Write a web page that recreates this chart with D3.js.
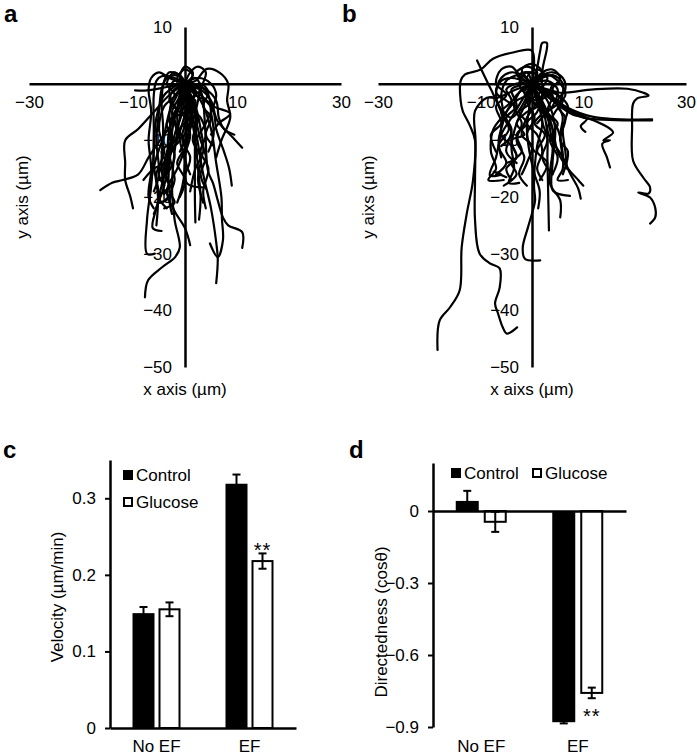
<!DOCTYPE html>
<html>
<head>
<meta charset="utf-8">
<script src="https://cdn.jsdelivr.net/npm/d3@7"></script>
<style>
  body { margin: 0; background: #fff; }
  svg { display: block; font-family: "Liberation Sans", Arial, sans-serif; }
</style>
</head>
<body>
<svg id="fig" width="697" height="755"></svg>
<script>
// ---- data ----
// cell tracks in µm, each starts at the origin
var tracksControl = [
  [[0,0],[-1,-3],[-2.5,-7],[-4.8,-10],[-7,-13],[-9,-16],[-12,-17],[-14,-17.5],[-16.3,-18.8]],
  [[0,0],[-3,-2],[-6,-5],[-9,-8],[-11.5,-10],[-11.5,-14],[-11.5,-17],[-10.5,-20],[-10,-22]],
  [[0,0],[-1,-6],[-2,-12],[-2.5,-18],[-2,-24],[-1,-28.9],[-1.9,-30.6],[-4.4,-32.4],[-7.1,-34.7],[-7.7,-37.7]],
  [[-1,0],[-4,-2],[-5.5,-6],[-6,-12],[-6.5,-18],[-7.3,-24],[-7.3,-30],[-5.8,-30]],
  [[0,0],[1,-5],[0.5,-10],[-1.5,-15],[-3.5,-19],[-2,-22.5],[0,-25.5],[1,-28.5]],
  [[0,0],[2.9,-1.2],[3.8,-6.5],[4.4,-15.3],[5.4,-17.6],[6.3,-20.6],[7.3,-23.6],[8.3,-25],[11,-26.2],[11,-29]],
  [[0,0],[3,-3],[5,-8],[6,-14],[7,-20],[7.1,-23.8],[7.3,-27.6],[6.3,-30.6],[4.8,-28.2]],
  [[0,0],[2,-8],[3.5,-16],[5,-22],[6,-28],[6.3,-31],[6,-35.2]],
  [[0,0],[3,-1],[5,-3],[6.2,-6.5],[9.2,-9.5],[11,-11.3]],
  [[0,0],[2,0.5],[4.2,2.6],[6.7,1.9],[8.3,0],[8.1,-3],[8.7,-6],[7,-10],[6,-13]],
  [[0,0],[-2,1],[-4.5,1.3],[-5.5,0.5],[-6,-2],[-6,-8],[-6,-14],[-5.2,-20],[-5.5,-25]],
  [[0,0],[-3,-0.5],[-7.3,-1.2],[-9.6,-1.2]],
  [[0,0],[3,-2],[5.5,-4],[8.7,-5.3],[6.5,-7],[5,-9]],
  [[0,0],[0.5,-6],[0,-12],[0.4,-17.6],[3.3,-18.3]],
  [[0,0],[1,-5],[2,-10],[2.5,-15],[3,-20],[2.7,-24]],
  [[0,0],[-2,-6],[-3,-12],[-4,-18],[-5.5,-22],[-6.2,-25.5],[-4.5,-26]],
  [[0,0],[1.9,-4],[1.9,-12],[1.9,-20],[2,-24.5]],
  [[0,0],[-1,-4],[-3,-8],[-3.5,-14],[-4.5,-18],[-5,-21],[-3,-20],[-4,-19]],
  [[0,0],[-0.5,-5],[-2,-9],[-3,-14],[-3,-19],[-2,-21],[-4,-22]],
  [[0,0],[2,-2],[4,-3],[5.5,-5],[6,-8],[7.5,-12],[8.5,-15],[9,-18]],
  [[0,0],[-1,1.5],[-3,2],[-4,0.5],[-4.5,-3],[-4.2,-8],[-4.5,-14],[-4,-19.5]],
  [[0,0],[1,2],[2.5,3],[4,2],[3,-1],[2,-5],[1,-8],[-1,-12]],
  [[0,0],[-1.5,-2],[-3,-5],[-4,-9],[-5.5,-13],[-6.5,-17],[-6.8,-21]],
  [[0,0],[0.5,-3],[-0.5,-7],[-2,-11],[-4,-14],[-6,-15],[-8,-17]],
  [[0,0],[1,-2],[2,-6],[3,-10],[4,-13],[3,-16],[4,-18.5]],
  [[0,0],[-2,0.5],[-3,-1],[-2,-4],[0,-6],[1,-9],[0,-13],[1,-16]],
  [[0,0],[2.5,1],[5,0],[6,-2],[5,-5],[4,-7],[2,-10]],
  [[0,0],[-1,-2],[-1.5,-6],[-1,-10],[0,-14],[-0.5,-18],[-1.5,-21]],
  [[0,0],[1,-1],[0,-3],[-2,-5],[-3,-9],[-2,-13],[-3.5,-16]],
  [[0,0],[3,-0.5],[4.5,-2],[5,-5],[5.5,-9],[4.5,-12]],
  [[0,0],[-0.5,1],[-2,1.5],[-3.5,1],[-4.5,-1],[-5,-5],[-5.5,-10],[-5,-16],[-6,-19]],
  [[0,0],[0.5,-2],[2,-4],[3,-8],[3.5,-12],[2,-15],[1,-19]],
  [[0,0],[-1,-1],[-2.5,-3],[-3,-6],[-2.5,-10],[-3.5,-13],[-5,-16],[-4,-18]],
  [[0,0],[4,-1],[6,-3],[6.5,-6],[7.5,-8],[9.5,-9]],
  [[0,0],[1,-3],[0,-7],[-1,-10],[-3,-12],[-4,-16],[-2.5,-19],[-4.5,-21]],
  [[0,0],[-2,2],[-3.5,0],[-2,-2],[-4,-4],[-5,-8],[-4,-12],[-5.5,-16],[-5,-20],[-6,-23]],
  [[0,0],[1.5,1.5],[0,2.5],[-1.5,1],[-1,-2],[-2.5,-5],[-1.5,-9],[-3,-12],[-2,-17],[-3,-20],[-2.5,-23]],
  [[0,0],[2,1],[3,-1],[1,-3],[2.5,-6],[1.5,-10],[3,-13],[2.5,-17],[3.5,-21]],
  [[0,0],[-1,-1.5],[1,-3],[0,-5],[-2,-6],[-1,-9],[-3,-11],[-4,-15],[-3,-18],[-5,-20],[-3.5,-22]],
  [[0,0],[1,0.5],[0.5,-2],[2,-3],[1,-6],[-1,-8],[0,-11],[-1.5,-14],[0,-17],[-1,-20]],
  [[0,0],[-3,1],[-5,2],[-6.5,1],[-7,-1],[-6.5,-5],[-7,-10],[-6.5,-15],[-7,-20],[-6,-22]],
  [[0,0],[2,-1],[1,-4],[3,-6],[4,-9],[3,-12],[4.5,-15],[3.5,-19],[4,-22]],
  [[0,0],[-1,1],[0,3],[1.5,2],[1,0],[2,-2],[0,-4],[1,-7],[-0.5,-10],[1,-13],[0,-16]],
  [[0,0],[-2,-1],[-3,-3],[-1.5,-5],[-3.5,-7],[-2.5,-10],[-4.5,-12],[-3,-15],[-5,-17]],
  [[0,0],[1.5,-1],[3,0],[4.5,-1.5],[3.5,-4],[5,-6],[4,-9],[5.5,-11]]
];

var tracksGlucose = [
  [[0,0],[0.2,0],[1,2.8],[1.6,5.8],[2,7.2],[2.9,7.2],[2.9,6.2],[2.1,2.8],[1.9,0.5],[2,-2],[1,-4]],
  [[0,0],[0,5.8],[-3.7,5.5],[-7.6,4.4],[-10,2.5],[-13.1,1.6],[-13.9,0.5],[-13.9,-3],[-13.5,-4.8],[-12.1,-7.4],[-11.1,-10],[-11.5,-17.1],[-12.7,-22.9],[-13.7,-28.9],[-14.1,-36.5],[-16,-39.5],[-18,-41.8],[-18.4,-47]],
  [[0,0],[-3,-1],[-6.8,-2.5],[-8.8,-2.5],[-11.1,-4.8],[-11,-10],[-11.1,-17.1],[-11.1,-24.1],[-10.2,-30],[-8.2,-31.7],[-6.3,-32.6],[-6.3,-36],[-7.2,-38.8],[-6.6,-40.6],[-5.7,-43],[-4.9,-44.1],[-2.9,-43]],
  [[0,0],[-2,-4],[-4,-6],[-6,-4.5],[-8,-1],[-10.7,4.1]],
  [[0,0],[3,-1],[5.5,-1.6],[12,-1],[18.6,-0.9],[21.7,-1.6],[22.7,-2.1],[20.5,-2.6],[19.7,-3.5],[19.5,-7.8],[19.7,-13.6],[21.7,-16.6],[23,-18.3],[22.7,-19.4],[20.7,-19.2],[23,-20.1],[24,-21.9],[24,-23.6],[23,-24.7]],
  [[0,0],[3,-1.5],[5.5,-3.5],[10.7,-5.6],[15.2,-6.2],[23.4,-6.3]],
  [[0,0],[3,-2],[6,-4],[10,-6],[15,-6.4],[23.4,-6.5]],
  [[0,0],[4,-2.5],[8,-5],[10.7,-6.2],[9.5,-7.5],[10.4,-8.5]],
  [[0,0],[4,-3],[8,-5.5],[10.7,-6],[15.8,-8.6],[13.9,-10],[15.2,-10],[13.7,-10.6],[14.6,-13],[15.2,-14.8]],
  [[0,0],[1,-3],[2,-7],[1,-11],[0.5,-15],[0.4,-18.3],[0.6,-20.6],[0,-22.9],[-0.8,-25.4],[-1.8,-28.9],[-1.4,-30.9],[1.6,-31.2]],
  [[0,0],[2,-4],[3,-9],[3,-13],[3.1,-17.1],[3.3,-25.9]],
  [[0,0],[2.5,-4],[4,-8],[4,-12],[3.5,-17.6],[5.5,-20.6],[5.5,-23.6]],
  [[0,0],[3,-3],[4.5,-8],[4,-14],[4.1,-18.9],[7.4,-19.8]],
  [[0,0],[-2,-3],[-4,-6],[-6,-9],[-7,-13],[-8.2,-16.2],[-6,-16],[-7.5,-15.5],[-5,-16.5]],
  [[0,0],[-3,-2],[-5,-5],[-7.5,-8],[-8,-12],[-7,-15],[-8.5,-17],[-5.5,-17]],
  [[0,0],[-1,-3],[-3,-7],[-4,-11],[-3.5,-15],[-4.5,-17.5],[-2.5,-17.5]],
  [[0,0],[1,-2],[3,-5],[5,-8],[5.8,-11],[6,-15],[5,-17],[7,-17]],
  [[0,0],[-2,1.5],[-4,2],[-6,1],[-7,-2],[-6,-5],[-4,-8],[-5,-12],[-3,-14]],
  [[0,0],[2,1.5],[4,2],[6,1],[6.5,-1],[5,-3],[6,-6],[5.5,-9],[6,-13]],
  [[0,0],[-1,2],[-3,1.5],[-5,0.5],[-6,-2],[-5.5,-6],[-6.5,-10],[-6,-13]],
  [[0,0],[1,-3],[-1,-6],[-2,-9],[0,-11],[-1,-14],[-2,-16]],
  [[0,0],[-1,-2],[-3,-3],[-5,-5],[-6,-9],[-4,-11],[-3,-13],[-5,-14]],
  [[0,0],[3,0.5],[5,-1],[4,-4],[2,-6],[3,-10],[2,-13],[4,-16]],
  [[0,0],[-2,-1],[-3.5,-4],[-2,-7],[-3,-10],[-1.5,-13],[-2.5,-16],[-1,-18]],
  [[0,0],[2,-1],[1,-5],[-1,-7],[1,-9],[2,-12],[1,-15],[2,-17]],
  [[0,0],[1,1.5],[-1,2],[-2.5,0],[-1,-2],[1,-3],[3,-2],[4,0]],
  [[0,0],[-4,1],[-6,0.5],[-7,-1.5],[-5,-3],[-3,-4]],
  [[0,0],[4,1.5],[6,0],[5.5,-3],[3,-5],[1,-7]],
  [[0,0],[1,-3],[3,-6],[4,-10],[6,-13],[7.5,-16],[9,-18.5],[9.5,-20.3]],
  [[0,0],[2,-4],[4,-8],[5,-12],[7,-15],[9,-17],[10,-18]],
  [[0,0],[-0.5,-4],[-1,-8],[-0.5,-12],[0.5,-16],[1.5,-19],[1.2,-22]],
  [[0,0],[2,-1],[5,-2],[7,-4],[6,-8],[6.5,-12],[6.8,-15]],
  [[0,0],[-2,1],[-4,3],[-6,2.5],[-7,0],[-5,-2],[-7,-4],[-6,-7],[-8,-9],[-7,-12]],
  [[0,0],[2,2],[4,2.5],[5.5,1],[4,-1],[6,-3],[4.5,-5],[3,-8],[4.5,-11]],
  [[0,0],[-1,-2],[1,-4],[-1,-5],[-3,-7],[-1.5,-9],[-4,-10],[-3,-13],[-5,-15],[-4,-17]],
  [[0,0],[1,2],[-1,3],[-3,2],[-2,0],[-4,-1],[-3,-4],[-5,-6],[-4,-9],[-6,-11]],
  [[0,0],[-1,1],[1,2.5],[3,1],[2,-1],[4,-2],[3,-5],[5,-7],[3.5,-10],[5,-13],[4,-16]],
  [[0,0],[-3,0],[-5,-1],[-4,-3],[-6,-5],[-4.5,-8],[-6.5,-11],[-5,-14],[-7,-16]],
  [[0,0],[2,-1],[0,-3],[2,-5],[0.5,-7],[2.5,-9],[1,-12],[3,-14],[1.5,-17]],
  [[0,0],[-1.5,-1.5],[-0.5,-3.5],[-2.5,-5],[-1,-7],[-3,-9],[-2,-12],[-4,-14],[-3,-16],[-5.5,-18]],
  [[0,0],[3,1.5],[5,0.5],[6.5,-2],[5,-4],[6.5,-6],[5.5,-10],[7,-12],[6,-16]],
  [[0,0],[-2,2.5],[0,3.5],[2,2],[0.5,0],[-1,-3],[0.5,-6],[-1,-9],[0.5,-12]]
];

var trackXTicks = [-30, -10, 10, 30];
var trackYTicks = [10, -10, -20, -30, -40, -50];

var groups = ["No EF", "EF"];
var series = ["Control", "Glucose"];

var velControl = [0.150, 0.319];
var velControlErr = [0.008, 0.012];
var velGlucose = [0.155, 0.218];
var velGlucoseErr = [0.009, 0.010];
var velTicks = [0, 0.1, 0.2, 0.3];

var dirControl = [0.042, -0.880];
var dirControlErr = [0.042, 0.005];
var dirGlucose = [-0.045, -0.758];
var dirGlucoseErr = [0.042, 0.022];
var dirTicks = [0, -0.3, -0.6, -0.9];

// ---- drawing ----
var svg = d3.select("svg#fig");
var FS = 17;

function panelLabel(x, y, t) {
  svg.append("text").attr("x", x).attr("y", y)
      .attr("font-size", 24).attr("font-weight", "bold").text(t);
}

function styleAxis(g) {
  g.attr("font-size", FS).attr("font-family", null);
  g.selectAll("text").attr("fill", "#000");
  g.select(".domain").attr("stroke", "#000").attr("stroke-width", 2.5);
  g.selectAll(".tick line").attr("stroke", "#000").attr("stroke-width", 2);
}

function trackPanel(tracks, xRange, xTitle, yTitle, yTitleX) {
  var x = d3.scaleLinear().domain([-30, 30]).range(xRange),
      y = d3.scaleLinear().domain([-50, 10]).range([367, 27]);

  svg.append("g")
      .attr("transform", "translate(0," + y(0) + ")")
      .call(d3.axisBottom(x).tickValues(trackXTicks).tickSize(0).tickSizeOuter(0).tickPadding(12))
      .call(styleAxis);

  svg.append("g")
      .attr("transform", "translate(" + x(0) + ",0)")
      .call(d3.axisLeft(y).tickValues(trackYTicks).tickSize(0).tickSizeOuter(0).tickPadding(13))
      .call(styleAxis);

  var line = d3.line()
      .x(function(d) { return x(d[0]); })
      .y(function(d) { return y(d[1]); })
      .curve(d3.curveCatmullRom.alpha(0.5));

  svg.append("g").selectAll("path")
    .data(tracks)
    .enter().append("path")
      .attr("d", line)
      .attr("fill", "none")
      .attr("stroke", "#000")
      .attr("stroke-width", 2.2)
      .attr("stroke-linejoin", "round")
      .attr("stroke-linecap", "round");

  svg.append("text")
      .attr("x", x(0)).attr("y", 395)
      .attr("text-anchor", "middle").attr("font-size", FS)
      .text(xTitle);

  svg.append("text")
      .attr("transform", "translate(" + yTitleX + ",197) rotate(-90)")
      .attr("text-anchor", "middle").attr("font-size", FS)
      .text(yTitle);
}

trackPanel(tracksControl, [29, 341], "x axis (µm)", "y axis (µm)", 28);
trackPanel(tracksGlucose, [378, 686], "x aixs (µm)", "y aixs (µm)", 374);

panelLabel(4, 22, "a");
panelLabel(342, 22, "b");
panelLabel(3, 458, "c");
panelLabel(349, 458, "d");

// bar panels
function barPanel(opt) {
  var x = d3.scaleBand().domain(groups).range(opt.xRange),
      y = d3.scaleLinear().domain(opt.yDomain).range(opt.yRange),
      bw = opt.barWidth, gap = opt.gap;

  var rows = groups.map(function(gname, i) {
    return [
      {group: gname, s: "Control", v: opt.control[i], e: opt.controlErr[i]},
      {group: gname, s: "Glucose", v: opt.glucose[i], e: opt.glucoseErr[i]}
    ];
  });
  var flat = [].concat.apply([], rows);

  function bx(d) {
    var c = x(d.group) + x.bandwidth() / 2;
    return d.s === "Control" ? c - gap / 2 - bw : c + gap / 2;
  }

  // y axis
  svg.append("g")
      .attr("transform", "translate(" + opt.xRange[0] + ",0)")
      .call(d3.axisLeft(y).tickValues(opt.ticks).tickSize(5).tickSizeOuter(0).tickPadding(9)
        .tickFormat(function(d) { return d === 0 ? "0" : d3.format(".1f")(d); }))
      .call(styleAxis);

  // bars
  svg.append("g").selectAll("rect")
    .data(flat)
    .enter().append("rect")
      .attr("x", function(d) { return bx(d) + (d.s === "Glucose" ? 1 : 0); })
      .attr("width", function(d) { return d.s === "Glucose" ? bw - 2 : bw; })
      .attr("y", function(d) { return Math.min(y(d.v), y(0)); })
      .attr("height", function(d) { return Math.abs(y(d.v) - y(0)); })
      .attr("fill", function(d) { return d.s === "Control" ? "#000" : "#fff"; })
      .attr("stroke", "#000")
      .attr("stroke-width", function(d) { return d.s === "Control" ? 0 : 2; });

  // baseline at zero
  svg.append("g")
      .attr("transform", "translate(0," + y(0) + ")")
      .call(d3.axisBottom(x).tickSize(0).tickSizeOuter(0).tickFormat(""))
      .call(styleAxis);

  // category labels
  svg.append("g")
      .attr("transform", "translate(0," + opt.labelAxisY + ")")
      .call(d3.axisBottom(x).tickSize(0).tickSizeOuter(0).tickPadding(12))
      .call(styleAxis)
      .call(function(g) { g.select(".domain").remove(); });

  // error bars
  var eb = svg.append("g").selectAll("g")
    .data(flat)
    .enter().append("g")
      .attr("stroke", "#000").attr("stroke-width", 2);
  eb.append("line")
      .attr("x1", function(d) { return bx(d) + bw / 2; })
      .attr("x2", function(d) { return bx(d) + bw / 2; })
      .attr("y1", function(d) { return y(d.v - d.e); })
      .attr("y2", function(d) { return y(d.v + d.e); });
  [-1, 1].forEach(function(sgn) {
    eb.append("line")
        .attr("x1", function(d) { return bx(d) + bw / 2 - 4; })
        .attr("x2", function(d) { return bx(d) + bw / 2 + 4; })
        .attr("y1", function(d) { return y(d.v + sgn * d.e); })
        .attr("y2", function(d) { return y(d.v + sgn * d.e); });
  });

  // significance marks on glucose EF
  var sig = flat[3];
  svg.append("text")
      .attr("x", bx(sig) + bw / 2)
      .attr("y", sig.v >= 0 ? y(sig.v + sig.e) + 4 : y(sig.v - sig.e) + 25)
      .attr("text-anchor", "middle").attr("font-size", 20)
      .attr("letter-spacing", 1)
      .text("**");

  // y title
  svg.append("text")
      .attr("transform", "translate(" + opt.titleX + "," + opt.titleY + ") rotate(-90)")
      .attr("text-anchor", "middle").attr("font-size", FS)
      .text(opt.title);

  // legend
  var lg = svg.append("g").selectAll("g")
    .data(series)
    .enter().append("g")
      .attr("transform", function(d, i) { return "translate(" + opt.legend[i][0] + "," + opt.legend[i][1] + ")"; });
  lg.append("rect")
      .attr("x", function(d) { return d === "Glucose" ? 1 : 0; })
      .attr("y", function(d) { return d === "Glucose" ? -10 : -11; })
      .attr("width", function(d) { return d === "Glucose" ? 8 : 10; })
      .attr("height", function(d) { return d === "Glucose" ? 8 : 10; })
      .attr("fill", function(d) { return d === "Control" ? "#000" : "#fff"; })
      .attr("stroke", "#000")
      .attr("stroke-width", function(d) { return d === "Control" ? 0 : 2; });
  lg.append("text")
      .attr("x", 13).attr("y", 0)
      .attr("font-size", FS)
      .text(function(d) { return d; });
}

barPanel({
  xRange: [110, 296], yDomain: [0, 0.35], yRange: [728, 460],
  barWidth: 22, gap: 4, ticks: velTicks,
  control: velControl, controlErr: velControlErr,
  glucose: velGlucose, glucoseErr: velGlucoseErr,
  labelAxisY: 728,
  title: "Velocity (µm/min)", titleX: 63, titleY: 597,
  legend: [[123, 481], [123, 508]]
});

barPanel({
  xRange: [433, 626], yDomain: [-0.9, 0.2], yRange: [727, 463],
  barWidth: 23, gap: 5, ticks: dirTicks,
  control: dirControl, controlErr: dirControlErr,
  glucose: dirGlucose, glucoseErr: dirGlucoseErr,
  labelAxisY: 728,
  title: "Directedness (cosθ)", titleX: 387, titleY: 622,
  legend: [[451, 479], [532, 479]]
});
</script>
</body>
</html>
